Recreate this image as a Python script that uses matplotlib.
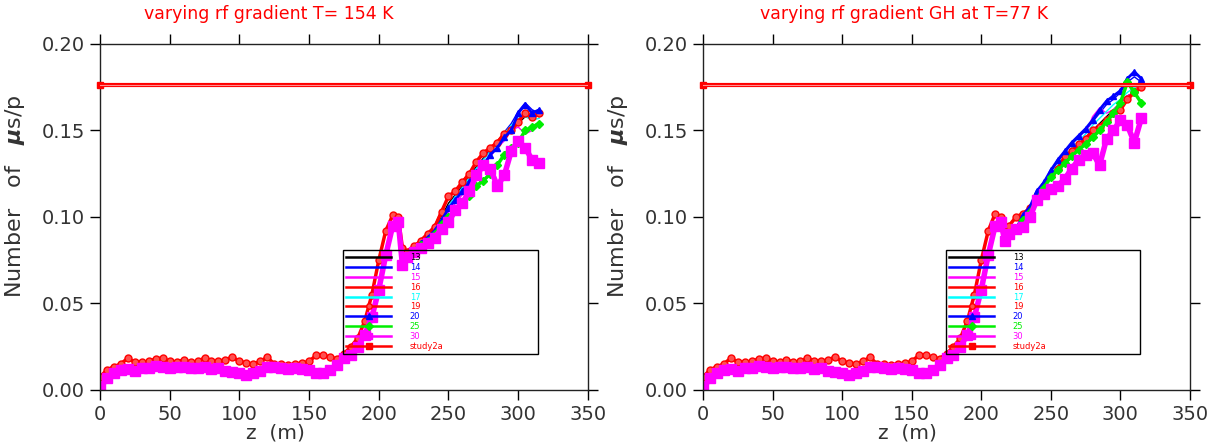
import matplotlib
matplotlib.use("Agg")
import matplotlib.pyplot as plt
from matplotlib.lines import Line2D

# z samples (m)
z_early = list(range(0, 180, 5))
z_rise = [180, 185, 190, 195, 200, 205, 210, 214, 217, 220, 225]
z_late = list(range(230, 320, 5))

# start of the channel is the same for every run in both plots
early_upper = [0.0075, 0.0116, 0.0135, 0.015, 0.0185, 0.016, 0.016, 0.0165, 0.018, 0.0185,
               0.0165, 0.016, 0.0175, 0.016, 0.0165, 0.0185, 0.0165, 0.0165, 0.0175, 0.019,
               0.0165, 0.0157, 0.015, 0.0165, 0.019, 0.015, 0.015, 0.0145, 0.015, 0.0155,
               0.0165, 0.020, 0.020, 0.019, 0.018, 0.021]
early_lower = [0.001, 0.0067, 0.0096, 0.0116, 0.012, 0.011, 0.0125, 0.0125, 0.0139, 0.0135,
               0.0125, 0.0135, 0.013, 0.0125, 0.0125, 0.013, 0.012, 0.0125, 0.011, 0.0106,
               0.010, 0.0087, 0.0096, 0.011, 0.0135, 0.0135, 0.0125, 0.012, 0.0125, 0.012,
               0.0116, 0.010, 0.0096, 0.0116, 0.0145, 0.0183]

left_rise_upper = [0.025, 0.030, 0.040, 0.055, 0.075, 0.092, 0.101, 0.100, 0.082, 0.080, 0.083]
left_rise_lower = [0.020, 0.025, 0.032, 0.042, 0.058, 0.078, 0.095, 0.097, 0.072, 0.077, 0.080]
right_rise_upper = [0.025, 0.030, 0.040, 0.055, 0.075, 0.092, 0.102, 0.100, 0.092, 0.095, 0.100]
right_rise_lower = [0.020, 0.025, 0.032, 0.042, 0.058, 0.078, 0.095, 0.097, 0.086, 0.090, 0.093]

runs = ["13", "14", "15", "16", "17", "19", "20", "25", "30"]
upper_runs = ["13", "16", "19"]

# T = 154 K, z = 230..315
left_late = {
    "13": [0.086, 0.089, 0.093, 0.100, 0.108, 0.113, 0.118, 0.124, 0.129, 0.134, 0.139, 0.142, 0.146, 0.150, 0.154, 0.158, 0.157, 0.159],
    "14": [0.085, 0.089, 0.093, 0.099, 0.106, 0.112, 0.117, 0.122, 0.128, 0.133, 0.139, 0.143, 0.149, 0.154, 0.161, 0.166, 0.162, 0.160],
    "15": [0.084, 0.087, 0.091, 0.097, 0.103, 0.108, 0.113, 0.118, 0.124, 0.129, 0.135, 0.140, 0.144, 0.150, 0.152, 0.148, 0.150, 0.153],
    "16": [0.087, 0.091, 0.095, 0.104, 0.111, 0.116, 0.121, 0.126, 0.131, 0.136, 0.140, 0.144, 0.149, 0.152, 0.156, 0.161, 0.159, 0.158],
    "17": [0.085, 0.088, 0.092, 0.099, 0.106, 0.112, 0.117, 0.123, 0.128, 0.133, 0.138, 0.142, 0.148, 0.153, 0.157, 0.158, 0.156, 0.157],
    "19": [0.086, 0.090, 0.094, 0.103, 0.112, 0.115, 0.120, 0.125, 0.132, 0.137, 0.140, 0.143, 0.148, 0.150, 0.155, 0.160, 0.158, 0.160],
    "20": [0.085, 0.088, 0.092, 0.098, 0.105, 0.110, 0.115, 0.120, 0.126, 0.130, 0.136, 0.140, 0.146, 0.150, 0.160, 0.165, 0.160, 0.162],
    "25": [0.084, 0.086, 0.090, 0.096, 0.100, 0.104, 0.108, 0.112, 0.118, 0.121, 0.125, 0.130, 0.136, 0.140, 0.143, 0.150, 0.152, 0.154],
    "30": [0.082, 0.085, 0.088, 0.093, 0.097, 0.104, 0.108, 0.115, 0.124, 0.130, 0.128, 0.118, 0.124, 0.138, 0.144, 0.140, 0.133, 0.131],
}
# GH at T = 77 K, z = 230..315
right_late = {
    "13": [0.101, 0.105, 0.112, 0.118, 0.124, 0.129, 0.134, 0.138, 0.142, 0.146, 0.150, 0.154, 0.158, 0.162, 0.166, 0.170, 0.172, 0.174],
    "14": [0.101, 0.106, 0.114, 0.120, 0.126, 0.132, 0.137, 0.142, 0.146, 0.150, 0.155, 0.160, 0.165, 0.168, 0.172, 0.178, 0.181, 0.178],
    "15": [0.099, 0.104, 0.111, 0.117, 0.123, 0.128, 0.133, 0.137, 0.141, 0.148, 0.158, 0.163, 0.160, 0.162, 0.166, 0.170, 0.172, 0.174],
    "16": [0.102, 0.106, 0.112, 0.118, 0.123, 0.128, 0.134, 0.138, 0.142, 0.145, 0.149, 0.153, 0.157, 0.160, 0.164, 0.168, 0.174, 0.176],
    "17": [0.102, 0.106, 0.113, 0.119, 0.125, 0.130, 0.135, 0.140, 0.144, 0.148, 0.153, 0.157, 0.161, 0.165, 0.168, 0.172, 0.175, 0.176],
    "19": [0.102, 0.105, 0.112, 0.118, 0.124, 0.128, 0.135, 0.138, 0.142, 0.145, 0.150, 0.152, 0.156, 0.160, 0.162, 0.168, 0.172, 0.175],
    "20": [0.101, 0.106, 0.115, 0.120, 0.127, 0.133, 0.138, 0.143, 0.147, 0.151, 0.156, 0.162, 0.167, 0.170, 0.173, 0.180, 0.184, 0.180],
    "25": [0.098, 0.103, 0.110, 0.117, 0.123, 0.127, 0.131, 0.135, 0.139, 0.142, 0.146, 0.150, 0.155, 0.160, 0.166, 0.178, 0.172, 0.166],
    "30": [0.094, 0.100, 0.110, 0.113, 0.116, 0.118, 0.122, 0.128, 0.133, 0.136, 0.137, 0.130, 0.145, 0.150, 0.156, 0.153, 0.143, 0.157],
}

study2a_z = [0, 350]
study2a_val = [0.1765, 0.1765]

# plot styles
style = {
    "13": dict(color="black", lw=1),
    "14": dict(color="blue", lw=1),
    "15": dict(color="magenta", lw=1),
    "16": dict(color="red", lw=1),
    "17": dict(color="cyan", lw=1),
    "19": dict(color="red", lw=2.5, marker="o", ms=5, mfc="#ff5050"),
    "20": dict(color="blue", lw=2, marker="^", ms=5),
    "25": dict(color="#00ee00", lw=2.5, marker="D", ms=4),
    "30": dict(color="magenta", lw=4, marker="s", ms=7),
}

plt.rcParams["font.family"] = "DejaVu Sans"
fig = plt.figure(figsize=(12.22, 4.46), dpi=100)
ax1 = fig.add_axes([0.0818, 0.1256, 0.3993, 0.7758])
ax2 = fig.add_axes([0.5753, 0.1256, 0.3985, 0.7758])


def draw_panel(ax, late, rise_up, rise_low, title, title_x, xlabel_x, leg_x, leg_w):
    z_all = z_early + z_rise + z_late
    for r in runs:
        if r in upper_runs:
            vals = early_upper + rise_up + late[r]
        else:
            vals = early_lower + rise_low + late[r]
        ax.plot(z_all, vals, **style[r])
    ax.plot(study2a_z, study2a_val, color="red", lw=3, marker="s", ms=5, clip_on=False, zorder=4)
    ax.plot(study2a_z, study2a_val, color="#ff9090", lw=0.8, zorder=4)

    ax.set_xlim(0, 350)
    ax.set_ylim(0, 0.20)
    ax.set_xticks([0, 50, 100, 150, 200, 250, 300, 350])
    ax.set_yticks([0.0, 0.05, 0.10, 0.15, 0.20])
    ax.set_yticklabels(["0.00", "0.05", "0.10", "0.15", "0.20"])
    ax.tick_params(direction="out", length=7, width=1, labelsize=14, labelcolor="#333333",
                   top=True, right=True, pad=4)
    for s in ax.spines.values():
        s.set_color("#222222")
        s.set_linewidth(1)

    ax.set_ylabel("Number   of   $\\boldsymbol{\\mu}$s/p", fontsize=16, color="#333333")
    ax.yaxis.set_label_coords(-0.15, 0.56)
    ax.text(xlabel_x, -0.125, "z  (m)", transform=ax.transAxes, ha="center", va="center",
            fontsize=14.5, color="#333333")
    ax.text(title_x, 1.087, title, transform=ax.transAxes, ha="center", va="center",
            fontsize=12.5, color="red")

    handles = []
    for r in runs:
        st = dict(style[r])
        st["lw"] = 1.8
        if "ms" in st:
            st["ms"] = 4
        handles.append(Line2D([], [], **st))
    handles.append(Line2D([], [], color="red", lw=1.8, marker="s", ms=4))
    labels = runs + ["study2a"]
    leg = ax.legend(handles, labels, loc="upper left", bbox_to_anchor=(leg_x, 0.104, leg_w, 0.301),
                    mode="expand", fontsize=6, fancybox=False, edgecolor="black",
                    facecolor="none", framealpha=1, borderpad=0.4, labelspacing=0.1,
                    handlelength=5.4, handletextpad=2.2, labelcolor="linecolor",
                    numpoints=1, borderaxespad=0)
    leg.get_frame().set_linewidth(1)


draw_panel(ax1, left_late, left_rise_upper, left_rise_lower,
           "varying rf gradient T= 154 K", 0.346, 0.36, 0.498, 0.4)
draw_panel(ax2, right_late, right_rise_upper, right_rise_lower,
           "varying rf gradient GH at T=77 K", 0.413, 0.42, 0.499, 0.398)

fig.savefig("out.png", dpi=100)
